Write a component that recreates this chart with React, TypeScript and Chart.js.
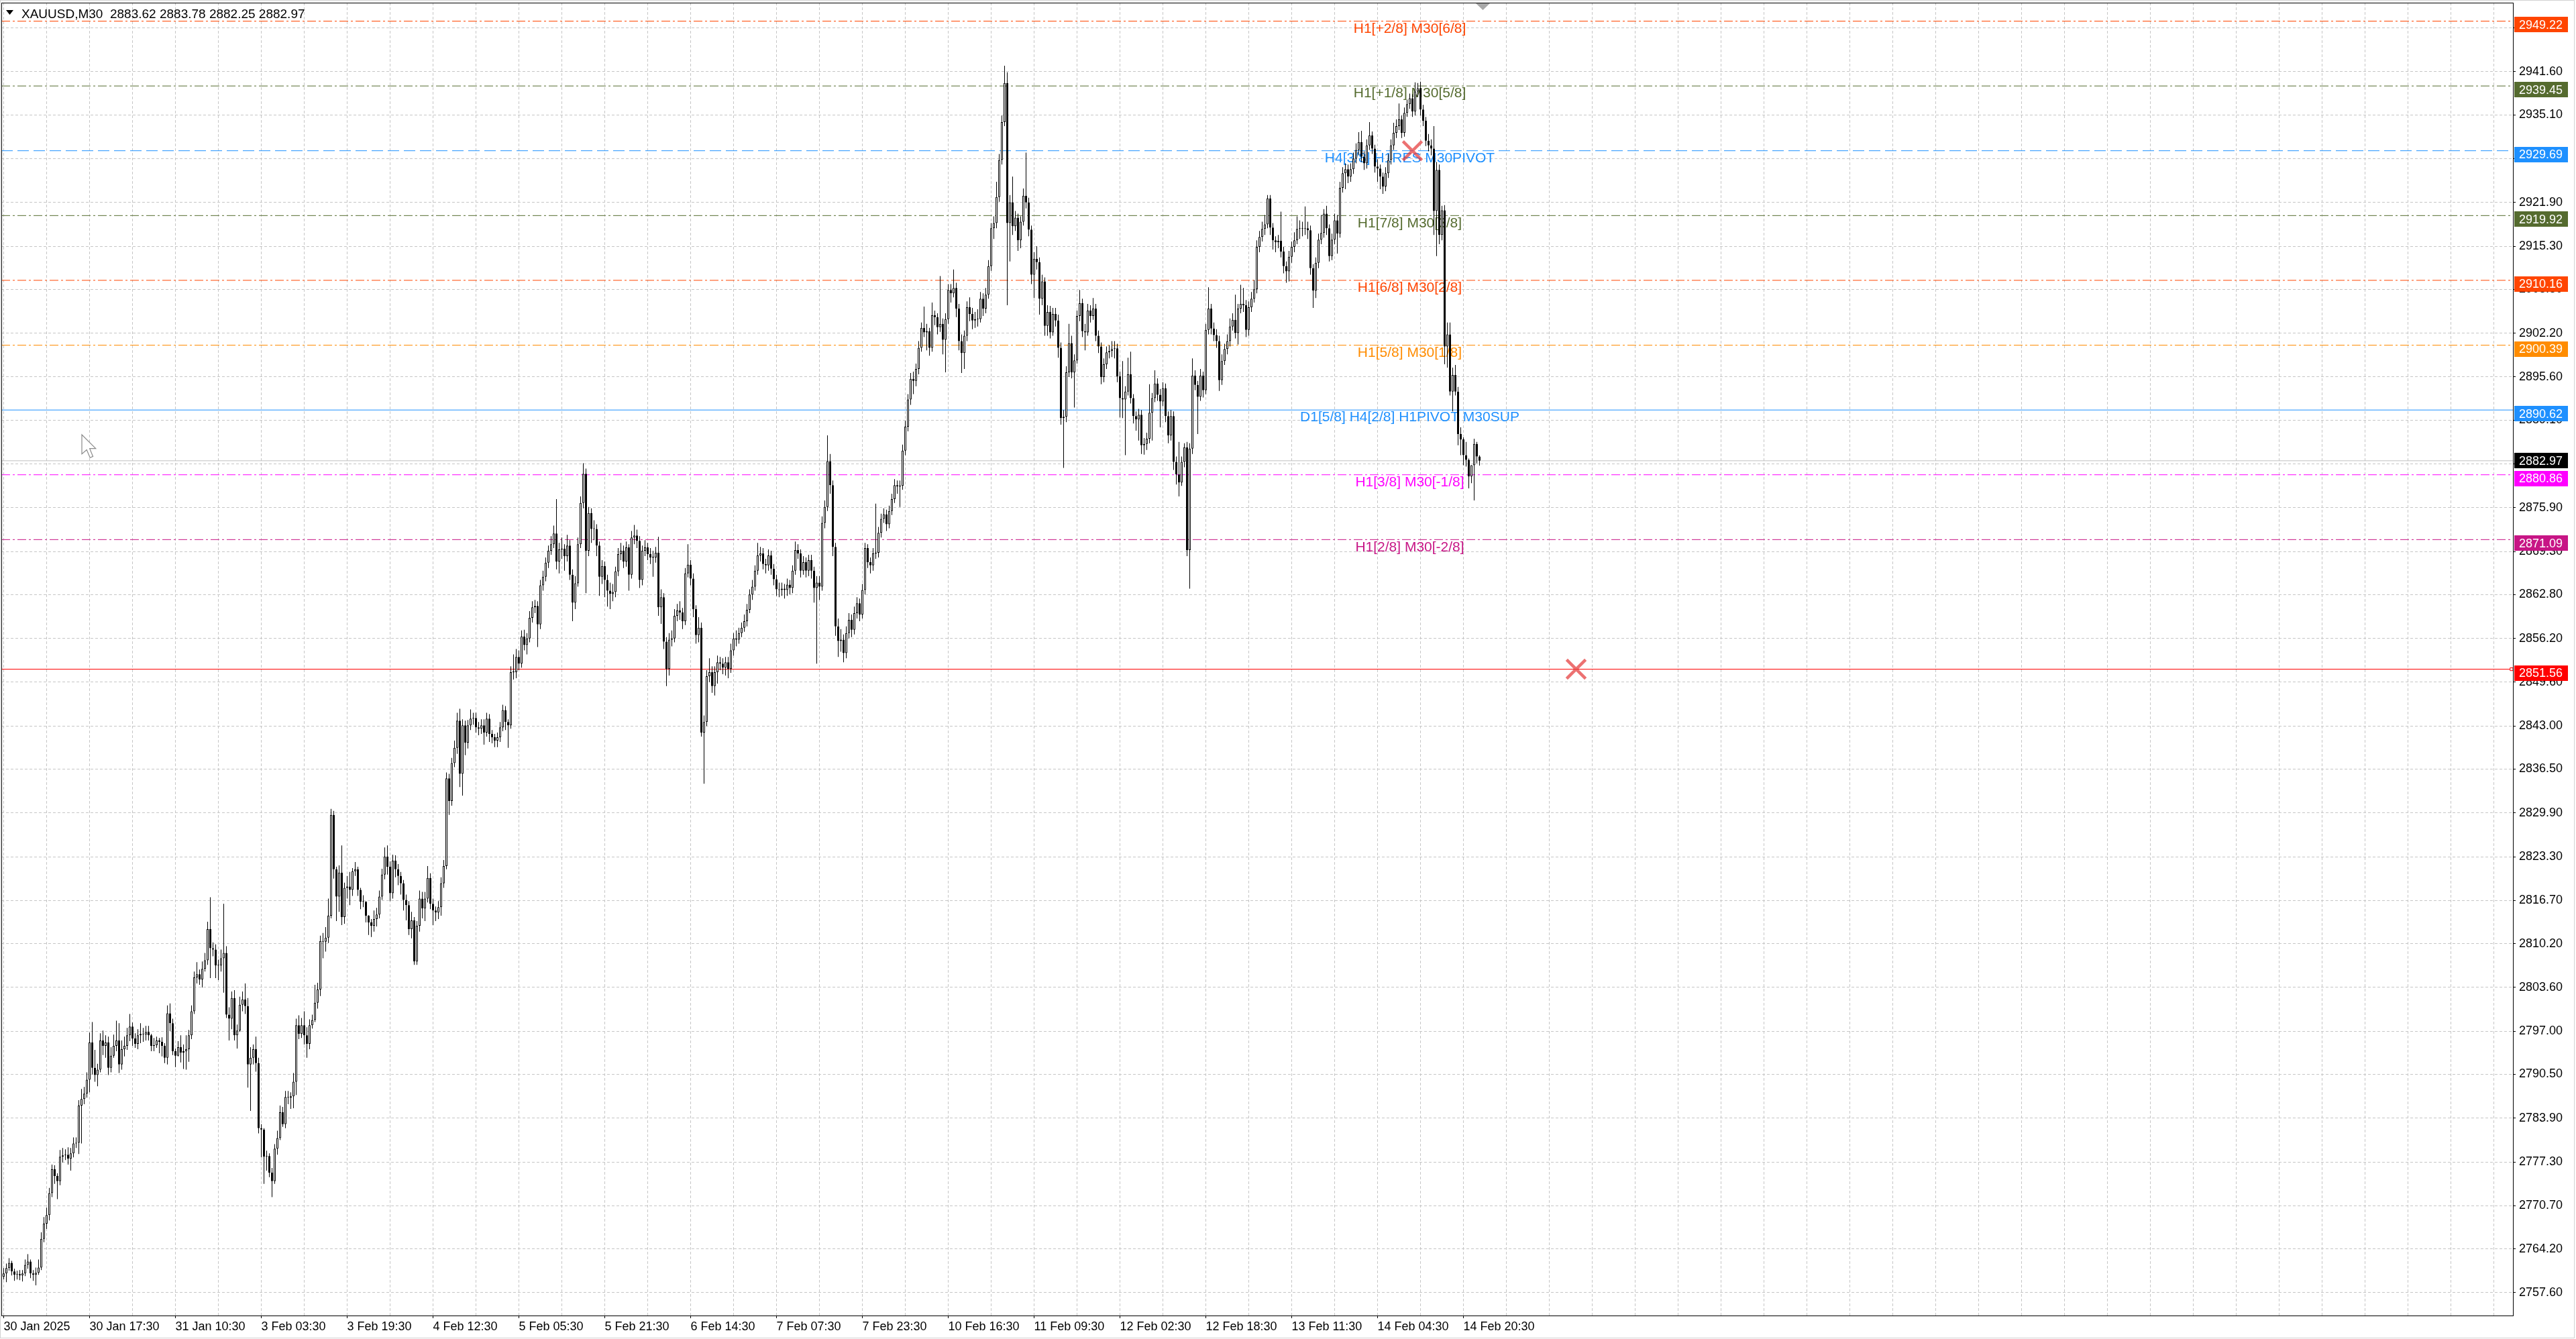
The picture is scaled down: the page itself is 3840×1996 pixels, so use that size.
import React, { useEffect, useRef } from 'react';
import { Chart, registerables } from 'chart.js';

Chart.register(...registerables);

// ---------------- data ----------------
const SYMBOL = 'XAUUSD,M30';
const FIRST_OPEN = 2760.0;

const CLOSE = [
  2760.5, 2761.3, 2762.1, 2760.8, 2760.3, 2760.4, 2760.2, 2760.5, 2761.8, 2762.3,
  2760.5, 2760.3, 2760.6, 2761.4, 2765.7, 2768.0, 2769.3, 2772.6, 2776.2, 2775.2,
  2774.4, 2778.1, 2778.3, 2778.4, 2777.8, 2778.6, 2780.1, 2780.2, 2785.8, 2786.8,
  2787.6, 2789.7, 2795.3, 2791.5, 2790.4, 2791.2, 2795.6, 2794.8, 2795.3, 2791.5,
  2793.3, 2794.8, 2795.6, 2792.0, 2794.3, 2794.8, 2796.4, 2797.7, 2795.9, 2795.1,
  2796.4, 2796.6, 2796.5, 2796.9, 2796.4, 2794.8, 2794.9, 2795.6, 2795.4, 2794.8,
  2793.0, 2799.7, 2798.2, 2794.0, 2793.3, 2794.6, 2793.8, 2794.0, 2794.3, 2796.4,
  2800.0, 2805.1, 2805.6, 2804.8, 2806.4, 2807.7, 2812.4, 2809.5, 2809.3, 2806.9,
  2806.9, 2808.0, 2808.8, 2799.5, 2798.9, 2802.0, 2796.4, 2797.1, 2801.0, 2801.8,
  2800.8, 2792.0, 2793.0, 2794.3, 2792.2, 2782.4, 2782.2, 2778.1, 2778.2, 2775.7,
  2774.4, 2779.3, 2780.9, 2784.8, 2783.0, 2787.1, 2787.0, 2787.2, 2789.4, 2797.9,
  2796.6, 2797.9, 2796.4, 2795.1, 2797.9, 2798.7, 2801.3, 2803.3, 2810.6, 2810.5,
  2811.1, 2814.4, 2829.6, 2821.4, 2817.3, 2820.9, 2814.2, 2818.6, 2818.8, 2818.3,
  2821.1, 2821.4, 2818.3, 2816.5, 2816.5, 2814.4, 2813.4, 2812.9, 2813.9, 2814.6,
  2817.3, 2820.6, 2823.3, 2821.8, 2817.8, 2822.7, 2821.4, 2820.4, 2819.3, 2816.8,
  2816.0, 2812.4, 2813.7, 2807.5, 2812.9, 2817.0, 2815.5, 2817.0, 2820.1, 2816.2,
  2815.2, 2814.9, 2815.7, 2819.3, 2821.9, 2835.1, 2831.7, 2837.4, 2839.7, 2843.8,
  2835.8, 2843.1, 2840.5, 2843.1, 2844.1, 2844.2, 2842.8, 2842.6, 2843.1, 2842.0,
  2844.1, 2841.8, 2841.3, 2840.8, 2841.3, 2842.8, 2845.4, 2843.6, 2843.1, 2851.1,
  2851.1, 2853.4, 2852.4, 2856.5, 2855.2, 2856.2, 2859.3, 2860.9, 2861.1, 2858.3,
  2864.2, 2865.5, 2867.6, 2869.4, 2870.4, 2872.0, 2867.8, 2869.6, 2869.7, 2868.6,
  2870.2, 2865.8, 2861.6, 2864.5, 2870.4, 2876.6, 2881.0, 2869.4, 2875.1, 2872.7,
  2872.7, 2870.2, 2865.5, 2867.1, 2865.0, 2863.4, 2862.9, 2863.2, 2866.3, 2868.9,
  2869.4, 2867.8, 2869.9, 2865.8, 2871.4, 2871.7, 2870.9, 2865.0, 2869.4, 2869.9,
  2868.9, 2868.4, 2868.4, 2869.1, 2860.9, 2862.4, 2855.7, 2851.6, 2856.0, 2856.2,
  2859.6, 2860.4, 2860.1, 2858.8, 2866.0, 2867.3, 2865.2, 2860.6, 2856.7, 2857.8,
  2842.0, 2843.6, 2850.5, 2851.1, 2849.0, 2851.1, 2852.6, 2852.4, 2851.8, 2852.6,
  2851.6, 2854.4, 2856.2, 2856.0, 2857.0, 2857.8, 2858.8, 2860.5, 2862.8, 2864.0,
  2866.4, 2868.7, 2869.0, 2867.4, 2867.2, 2868.7, 2866.7, 2865.1, 2863.6, 2863.5,
  2863.7, 2863.5, 2864.3, 2863.8, 2866.4, 2869.5, 2869.0, 2866.4, 2867.7, 2866.4,
  2868.0, 2866.4, 2863.8, 2864.6, 2864.0, 2873.6, 2876.0, 2882.9, 2879.3, 2870.0,
  2858.0, 2855.8, 2856.0, 2854.0, 2857.0, 2859.0, 2857.5, 2860.0, 2861.5, 2859.8,
  2863.5, 2869.8, 2867.7, 2867.2, 2869.0, 2869.1, 2872.1, 2874.2, 2874.9, 2873.4,
  2875.4, 2877.2, 2879.3, 2879.1, 2879.2, 2884.5, 2888.1, 2892.2, 2895.3, 2895.0,
  2896.8, 2900.0, 2903.0, 2902.3, 2902.5, 2900.0, 2904.9, 2904.6, 2903.1, 2903.6,
  2901.2, 2904.3, 2908.7, 2908.2, 2909.0, 2905.9, 2901.0, 2899.2, 2901.8, 2906.1,
  2905.1, 2904.1, 2904.3, 2904.3, 2907.4, 2905.9, 2908.0, 2912.3, 2918.0, 2918.8,
  2922.7, 2928.3, 2934.0, 2939.9, 2918.8, 2921.9, 2918.3, 2919.6, 2916.2, 2919.0,
  2922.9, 2921.9, 2917.8, 2911.0, 2913.4, 2912.9, 2907.4, 2910.0, 2903.3, 2905.4,
  2902.3, 2905.1, 2904.1, 2900.0, 2889.4, 2889.6, 2896.3, 2900.7, 2896.3, 2898.1,
  2904.8, 2906.7, 2902.5, 2902.3, 2905.6, 2904.8, 2905.9, 2901.8, 2900.2, 2895.6,
  2897.5, 2899.3, 2899.5, 2899.8, 2899.9, 2895.7, 2892.4, 2892.2, 2893.4, 2896.0,
  2892.4, 2889.7, 2889.2, 2889.9, 2885.3, 2885.5, 2886.3, 2890.2, 2892.4, 2894.6,
  2892.9, 2891.9, 2893.9, 2889.7, 2886.8, 2889.7, 2882.8, 2880.9, 2879.7, 2882.8,
  2885.0, 2869.5, 2884.8, 2895.8, 2894.4, 2892.6, 2895.8, 2893.6, 2902.7, 2905.9,
  2902.9, 2901.9, 2901.0, 2895.1, 2898.0, 2899.8, 2901.0, 2903.2, 2904.2, 2902.2,
  2905.9, 2906.6, 2906.4, 2902.7, 2906.1, 2907.4, 2908.8, 2915.2, 2916.7, 2917.9,
  2918.6, 2922.5, 2918.1, 2916.2, 2915.9, 2916.1, 2914.5, 2912.3, 2911.5, 2913.7,
  2915.2, 2916.2, 2917.9, 2917.9, 2917.9, 2918.0, 2917.7, 2912.0, 2908.6, 2912.8,
  2916.3, 2917.3, 2920.2, 2918.0, 2913.8, 2916.3, 2919.2, 2917.2, 2924.1, 2926.3,
  2926.9, 2925.8, 2926.9, 2928.5, 2929.8, 2931.0, 2928.8, 2927.8, 2930.5, 2932.0,
  2930.0, 2927.3, 2927.0, 2925.8, 2924.3, 2926.3, 2928.3, 2930.5, 2932.4, 2933.4,
  2934.4, 2932.4, 2935.4, 2936.7, 2937.6, 2935.6, 2938.6, 2939.1, 2935.9, 2934.2,
  2931.2, 2930.5, 2930.0, 2920.6, 2926.8, 2917.0, 2920.7, 2900.2, 2902.0, 2893.4,
  2895.9, 2893.4, 2887.0, 2886.2, 2883.8, 2883.1, 2880.6, 2882.3, 2885.5, 2883.62,
  2882.97,
];

const HIGH = [
  2761.3, 2762.0, 2762.8, 2762.4, 2761.2, 2760.9, 2761.0, 2761.0, 2762.6, 2763.4,
  2762.6, 2761.0, 2761.4, 2762.6, 2766.7, 2769.0, 2770.4, 2773.4, 2776.9, 2776.8,
  2775.6, 2779.1, 2779.4, 2779.2, 2779.5, 2779.4, 2781.0, 2781.0, 2786.6, 2788.3,
  2788.6, 2790.8, 2796.8, 2798.4, 2794.2, 2792.1, 2796.7, 2797.1, 2796.4, 2796.2,
  2794.6, 2796.5, 2798.6, 2798.2, 2795.6, 2796.2, 2797.5, 2799.6, 2798.3, 2796.7,
  2797.3, 2798.2, 2797.5, 2797.8, 2797.8, 2796.6, 2796.0, 2796.2, 2796.0, 2796.1,
  2795.2, 2800.9, 2801.2, 2798.9, 2794.4, 2795.5, 2796.4, 2795.0, 2796.4, 2797.2,
  2800.9, 2806.0, 2807.4, 2806.3, 2807.5, 2808.8, 2813.5, 2817.2, 2810.4, 2810.1,
  2807.8, 2809.3, 2816.2, 2809.8, 2800.6, 2803.0, 2803.2, 2798.0, 2802.2, 2803.0,
  2804.2, 2802.0, 2794.6, 2795.0, 2796.2, 2793.0, 2783.0, 2782.4, 2779.0, 2778.6,
  2776.4, 2780.0, 2782.0, 2785.8, 2785.6, 2788.0, 2788.0, 2787.8, 2790.7, 2798.9,
  2799.4, 2799.0, 2800.0, 2797.6, 2798.8, 2799.5, 2804.0, 2804.3, 2811.4, 2811.8,
  2812.7, 2817.0, 2830.5, 2830.2, 2821.8, 2822.0, 2825.0, 2819.4, 2820.4, 2821.0,
  2821.6, 2822.5, 2821.8, 2818.6, 2817.5, 2816.6, 2814.5, 2813.9, 2815.2, 2815.6,
  2818.2, 2821.5, 2824.7, 2825.0, 2822.6, 2823.6, 2823.5, 2822.2, 2821.0, 2819.8,
  2817.6, 2816.6, 2815.0, 2814.2, 2813.6, 2818.2, 2818.0, 2818.0, 2821.9, 2820.8,
  2817.0, 2815.8, 2816.6, 2820.2, 2822.8, 2836.0, 2835.8, 2838.2, 2840.8, 2845.0,
  2845.6, 2844.0, 2843.8, 2843.9, 2845.5, 2845.0, 2845.0, 2843.6, 2844.0, 2844.0,
  2845.0, 2844.8, 2842.4, 2841.8, 2842.0, 2843.6, 2846.2, 2846.0, 2844.0, 2852.0,
  2853.8, 2854.6, 2854.4, 2857.4, 2857.5, 2857.0, 2860.3, 2861.8, 2862.0, 2861.8,
  2865.0, 2866.4, 2868.4, 2870.2, 2871.6, 2873.2, 2877.2, 2870.6, 2871.4, 2870.4,
  2871.8, 2871.0, 2866.6, 2865.6, 2871.4, 2877.6, 2882.6, 2881.8, 2876.0, 2875.8,
  2874.0, 2873.4, 2870.8, 2868.0, 2867.8, 2865.8, 2864.6, 2864.4, 2867.0, 2869.8,
  2870.6, 2870.2, 2870.8, 2870.4, 2872.4, 2873.3, 2872.6, 2871.6, 2870.2, 2871.0,
  2870.6, 2869.8, 2869.4, 2870.0, 2871.5, 2863.6, 2863.0, 2856.4, 2857.0, 2857.4,
  2860.6, 2861.4, 2861.8, 2860.8, 2866.8, 2870.4, 2868.0, 2866.0, 2861.2, 2859.4,
  2858.6, 2844.6, 2851.4, 2853.2, 2852.0, 2852.0, 2853.6, 2853.4, 2853.2, 2853.4,
  2853.4, 2855.4, 2857.0, 2857.4, 2857.8, 2858.6, 2859.8, 2861.4, 2863.6, 2865.0,
  2867.2, 2870.6, 2870.0, 2869.8, 2868.2, 2869.6, 2869.4, 2867.4, 2865.8, 2864.6,
  2864.6, 2864.4, 2865.2, 2865.0, 2867.2, 2870.8, 2870.4, 2869.6, 2868.6, 2868.4,
  2868.8, 2868.8, 2867.0, 2865.6, 2865.6, 2874.6, 2877.0, 2886.8, 2884.0, 2880.0,
  2870.6, 2859.2, 2857.6, 2856.8, 2858.0, 2860.0, 2859.8, 2861.0, 2862.4, 2862.2,
  2864.4, 2870.6, 2870.4, 2868.4, 2869.8, 2876.5, 2873.0, 2875.0, 2875.8, 2875.6,
  2876.2, 2878.0, 2880.2, 2880.0, 2880.0, 2885.4, 2889.0, 2893.0, 2896.2, 2896.4,
  2897.6, 2901.0, 2903.8, 2906.2, 2903.6, 2903.0, 2906.8, 2905.6, 2905.2, 2910.8,
  2904.4, 2905.2, 2909.6, 2909.6, 2911.8, 2909.8, 2906.6, 2902.0, 2902.6, 2907.0,
  2907.6, 2906.0, 2905.4, 2905.8, 2908.4, 2908.2, 2909.0, 2913.2, 2918.8, 2919.8,
  2925.0, 2929.2, 2935.0, 2942.5, 2941.5, 2923.0, 2925.8, 2920.6, 2920.2, 2919.8,
  2924.0, 2929.4, 2922.6, 2918.4, 2914.4, 2915.3, 2913.6, 2911.0, 2910.6, 2906.4,
  2906.3, 2906.0, 2906.0, 2905.0, 2900.8, 2890.6, 2897.2, 2903.6, 2901.8, 2899.0,
  2905.6, 2908.7, 2907.4, 2903.6, 2906.6, 2906.4, 2907.5, 2906.6, 2902.6, 2900.8,
  2898.4, 2900.2, 2900.4, 2901.0, 2901.0, 2900.6, 2896.4, 2898.0, 2894.2, 2898.5,
  2899.4, 2893.0, 2890.4, 2890.8, 2890.6, 2886.4, 2887.2, 2894.5, 2893.2, 2896.6,
  2895.4, 2893.8, 2894.8, 2894.6, 2890.4, 2890.6, 2890.4, 2883.6, 2885.8, 2883.6,
  2885.6, 2885.8, 2885.6, 2898.4, 2896.6, 2895.0, 2896.8, 2896.4, 2903.6, 2909.1,
  2906.6, 2903.8, 2902.8, 2901.8, 2899.0, 2900.6, 2902.0, 2904.4, 2905.2, 2908.0,
  2906.6, 2909.5, 2909.0, 2907.2, 2907.0, 2908.4, 2910.2, 2916.2, 2917.6, 2919.0,
  2920.0, 2923.0, 2923.0, 2918.8, 2916.8, 2917.0, 2920.5, 2915.2, 2913.0, 2914.6,
  2916.0, 2917.4, 2919.8, 2919.2, 2919.0, 2921.3, 2919.0, 2918.4, 2912.6, 2913.6,
  2917.2, 2920.0, 2920.9, 2921.4, 2918.6, 2917.2, 2920.2, 2920.0, 2925.0, 2927.2,
  2927.8, 2927.6, 2927.8, 2929.4, 2930.8, 2932.5, 2932.7, 2929.6, 2931.4, 2934.0,
  2932.6, 2930.6, 2928.4, 2927.6, 2926.4, 2927.2, 2929.2, 2931.4, 2933.9, 2934.4,
  2936.8, 2935.0, 2936.2, 2937.4, 2938.3, 2938.2, 2940.0, 2939.9, 2940.1, 2936.6,
  2934.8, 2932.2, 2931.4, 2933.4, 2928.0, 2927.6, 2921.4, 2921.5, 2903.8, 2903.8,
  2897.0, 2897.4, 2894.1, 2888.0, 2886.5, 2885.8, 2883.3, 2882.3, 2886.3, 2885.8,
  2883.78,
];

const LOW = [
  2759.6, 2759.2, 2760.9, 2760.2, 2759.4, 2759.6, 2759.5, 2759.3, 2760.1, 2761.2,
  2759.8, 2759.4, 2758.7, 2760.3, 2761.0, 2765.2, 2767.2, 2768.5, 2772.0, 2774.0,
  2771.7, 2773.8, 2777.2, 2777.6, 2776.9, 2776.0, 2778.0, 2779.4, 2778.5, 2780.1,
  2786.0, 2787.0, 2787.8, 2790.5, 2789.4, 2788.7, 2790.8, 2793.4, 2793.0, 2790.4,
  2790.8, 2793.0, 2794.0, 2790.7, 2791.2, 2793.2, 2794.2, 2795.5, 2794.8, 2794.5,
  2794.3, 2795.2, 2795.4, 2795.6, 2795.6, 2794.0, 2794.0, 2794.5, 2793.7, 2793.2,
  2792.2, 2792.0, 2797.0, 2793.4, 2791.6, 2793.2, 2792.3, 2791.3, 2791.2, 2792.4,
  2795.8, 2799.6, 2804.2, 2804.0, 2803.6, 2806.0, 2807.0, 2805.0, 2808.3, 2805.0,
  2804.7, 2806.0, 2802.8, 2799.0, 2795.6, 2797.3, 2795.6, 2794.4, 2796.9, 2800.0,
  2799.6, 2788.5, 2785.0, 2792.0, 2790.9, 2781.6, 2778.0, 2774.0, 2776.0, 2775.0,
  2772.0, 2774.0, 2778.4, 2780.6, 2782.6, 2782.4, 2786.0, 2785.3, 2785.4, 2787.4,
  2795.8, 2796.0, 2795.0, 2793.0, 2794.3, 2797.4, 2798.4, 2800.4, 2802.3, 2808.0,
  2809.0, 2810.3, 2814.0, 2820.0, 2813.6, 2815.0, 2813.0, 2813.2, 2817.0, 2816.0,
  2817.4, 2820.4, 2817.4, 2815.4, 2815.7, 2813.4, 2811.5, 2811.2, 2812.0, 2812.8,
  2814.0, 2816.8, 2819.9, 2820.6, 2816.6, 2817.0, 2820.2, 2819.0, 2817.6, 2815.2,
  2813.7, 2811.5, 2811.0, 2807.0, 2807.0, 2812.0, 2814.0, 2813.6, 2816.4, 2815.4,
  2813.0, 2813.6, 2813.9, 2814.4, 2818.6, 2821.4, 2829.6, 2831.0, 2836.8, 2838.8,
  2833.8, 2832.5, 2838.6, 2839.6, 2842.4, 2843.2, 2842.0, 2841.6, 2841.8, 2840.2,
  2841.4, 2840.6, 2840.4, 2839.8, 2839.8, 2840.6, 2842.2, 2842.4, 2839.7, 2842.6,
  2850.0, 2850.2, 2851.4, 2851.8, 2854.4, 2853.8, 2855.6, 2858.6, 2860.0, 2854.9,
  2857.6, 2863.4, 2864.8, 2866.8, 2868.8, 2869.8, 2866.6, 2866.0, 2868.2, 2866.4,
  2867.8, 2865.0, 2858.8, 2860.6, 2864.0, 2869.8, 2875.8, 2863.0, 2868.6, 2870.6,
  2871.0, 2868.6, 2862.6, 2864.4, 2862.4, 2861.0, 2860.6, 2861.8, 2862.4, 2865.6,
  2868.0, 2866.8, 2867.0, 2863.4, 2865.2, 2870.4, 2869.8, 2863.8, 2864.2, 2868.6,
  2868.0, 2867.4, 2865.5, 2867.6, 2859.6, 2858.4, 2854.6, 2849.0, 2850.6, 2855.0,
  2855.6, 2858.8, 2859.0, 2857.6, 2858.2, 2865.4, 2864.2, 2859.4, 2855.4, 2855.6,
  2841.4, 2834.3, 2843.0, 2849.6, 2848.0, 2847.6, 2849.4, 2851.4, 2850.8, 2850.6,
  2850.2, 2851.0, 2853.6, 2855.0, 2855.4, 2856.4, 2857.2, 2858.0, 2860.0, 2862.0,
  2863.4, 2865.8, 2867.8, 2866.6, 2866.0, 2866.4, 2865.8, 2864.2, 2862.6, 2862.4,
  2862.6, 2862.2, 2862.6, 2862.8, 2863.0, 2865.8, 2868.2, 2865.4, 2865.8, 2865.4,
  2865.6, 2865.2, 2861.6, 2852.4, 2862.0, 2863.4, 2872.8, 2875.4, 2878.0, 2868.6,
  2856.6, 2853.4, 2854.2, 2852.6, 2853.2, 2856.2, 2856.4, 2856.8, 2859.2, 2858.8,
  2859.2, 2862.8, 2866.8, 2866.0, 2866.4, 2868.2, 2868.4, 2871.4, 2873.6, 2872.4,
  2872.8, 2874.8, 2876.6, 2878.0, 2876.0, 2878.6, 2883.8, 2887.4, 2891.4, 2893.0,
  2894.2, 2896.0, 2899.4, 2901.6, 2899.6, 2898.8, 2899.4, 2903.4, 2902.0, 2902.4,
  2899.0, 2896.3, 2903.6, 2906.8, 2907.6, 2904.6, 2899.6, 2896.2, 2896.8, 2901.0,
  2904.0, 2902.8, 2903.0, 2903.2, 2903.8, 2904.8, 2905.2, 2907.4, 2911.6, 2916.4,
  2918.0, 2922.0, 2927.6, 2933.4, 2906.4, 2913.0, 2917.0, 2917.6, 2914.6, 2915.0,
  2918.4, 2921.0, 2916.8, 2909.6, 2907.5, 2911.8, 2905.0, 2906.4, 2901.8, 2901.8,
  2901.4, 2901.8, 2903.2, 2898.5, 2888.4, 2881.9, 2888.8, 2895.6, 2895.4, 2891.0,
  2897.6, 2904.0, 2901.6, 2899.6, 2901.8, 2903.8, 2904.2, 2901.0, 2899.2, 2894.5,
  2894.8, 2896.8, 2898.4, 2898.6, 2898.4, 2894.8, 2889.5, 2889.4, 2883.8, 2892.8,
  2891.6, 2888.6, 2887.5, 2886.0, 2884.0, 2883.9, 2884.6, 2885.6, 2886.0, 2891.8,
  2892.0, 2888.0, 2891.2, 2888.8, 2885.6, 2886.0, 2881.6, 2879.4, 2877.6, 2879.2,
  2882.0, 2868.6, 2863.7, 2884.0, 2893.6, 2887.0, 2892.0, 2892.5, 2893.0, 2902.0,
  2902.0, 2901.0, 2900.0, 2893.5, 2894.4, 2897.4, 2899.0, 2900.2, 2902.6, 2901.4,
  2900.5, 2905.2, 2905.4, 2901.6, 2901.8, 2905.4, 2906.8, 2908.2, 2914.4, 2916.0,
  2917.0, 2918.0, 2917.0, 2914.8, 2914.4, 2915.0, 2913.6, 2911.2, 2909.8, 2910.0,
  2912.8, 2914.4, 2915.6, 2916.4, 2916.8, 2917.0, 2916.4, 2911.0, 2906.0, 2907.5,
  2912.0, 2915.6, 2916.6, 2917.0, 2913.0, 2913.2, 2915.6, 2914.2, 2916.6, 2923.4,
  2923.9, 2924.8, 2925.0, 2926.2, 2927.8, 2929.0, 2928.0, 2926.8, 2927.0, 2929.8,
  2929.2, 2926.4, 2925.0, 2923.9, 2923.2, 2923.6, 2925.6, 2927.6, 2929.8, 2931.6,
  2932.8, 2931.6, 2931.8, 2934.8, 2936.0, 2934.8, 2935.0, 2937.8, 2935.0, 2933.4,
  2930.4, 2929.6, 2929.0, 2917.0, 2913.8, 2915.6, 2916.2, 2897.5, 2897.0, 2892.8,
  2890.4, 2892.8, 2885.3, 2883.8, 2882.3, 2882.1, 2878.8, 2879.6, 2877.0, 2882.6,
  2882.25,
];

const X_LABELS = [
  '30 Jan 2025', '30 Jan 17:30', '31 Jan 10:30', '3 Feb 03:30', '3 Feb 19:30', '4 Feb 12:30',
  '5 Feb 05:30', '5 Feb 21:30', '6 Feb 14:30', '7 Feb 07:30', '7 Feb 23:30', '10 Feb 16:30',
  '11 Feb 09:30', '12 Feb 02:30', '12 Feb 18:30', '13 Feb 11:30', '14 Feb 04:30', '14 Feb 20:30',
];

const Y_TICKS = [
  2948.2, 2941.6, 2935.1, 2928.5, 2921.9, 2915.3, 2908.8, 2902.2, 2895.6, 2889.1,
  2882.5, 2875.9, 2869.3, 2862.8, 2856.2, 2849.6, 2843.0, 2836.5, 2829.9, 2823.3,
  2816.7, 2810.2, 2803.6, 2797.0, 2790.5, 2783.9, 2777.3, 2770.7, 2764.2, 2757.6,
];

const LEVEL_PRICES = [2949.22, 2939.45, 2929.69, 2919.92, 2910.16, 2900.39, 2890.62, 2880.86, 2871.09];
const LEVEL_NAMES = [
  'H1[+2/8] M30[6/8]',
  'H1[+1/8] M30[5/8]',
  'H4[3/8] H1RES M30PIVOT',
  'H1[7/8] M30[3/8]',
  'H1[6/8] M30[2/8]',
  'H1[5/8] M30[1/8]',
  'D1[5/8] H4[2/8] H1PIVOT M30SUP',
  'H1[3/8] M30[-1/8]',
  'H1[2/8] M30[-2/8]',
];
const BID_PRICE = 2882.97;
const SUPPORT_PRICE = 2851.56;
const MARK_BARS = [525, 586];
const MARK_PRICES = [2929.69, 2851.56];
const LABEL_BAR = 524;
const SUPPORT_ANCHOR_BAR = 934.6;

// ---------------- styles / view ----------------
const W = 3840;
const H = 1996;
const X_MIN = -0.875;
const X_MAX = 935.125;
const Y_MIN = 2754.16;
const Y_MAX = 2952.0;
const FONT = '"Liberation Sans", Arial, sans-serif';
const GRID_COLOR = '#c6c6c6';
const DASHDOT = [13, 4, 3, 4];
const LEVEL_COLORS = ['#FF4500', '#556B2F', '#1E90FF', '#556B2F', '#FF4500', '#FF8C00', '#1E90FF', '#FF00FF', '#C71585'];
const LEVEL_DASHES = [DASHDOT, DASHDOT, [17, 7], DASHDOT, DASHDOT, DASHDOT, [], DASHDOT, DASHDOT];
const SUPPORT_COLOR = '#FF0000';
const BID_LINE_COLOR = '#c0c0c0';

const overlay = {
  id: 'mtOverlay',
  beforeDatasetsDraw(chart: any) {
    const { ctx, chartArea: a, scales } = chart;
    const x = scales.x;
    const y = scales.y;
    ctx.save();
    ctx.beginPath();
    ctx.rect(a.left, a.top, a.right - a.left, a.bottom - a.top);
    ctx.clip();
    ctx.font = `21px ${FONT}`;
    ctx.textAlign = 'center';
    ctx.textBaseline = 'top';
    const cx = x.getPixelForValue(LABEL_BAR);
    LEVEL_PRICES.forEach((p, i) => {
      ctx.fillStyle = LEVEL_COLORS[i];
      ctx.fillText(LEVEL_NAMES[i], cx, y.getPixelForValue(p) + 1);
    });
    ctx.restore();
  },
  afterDraw(chart: any) {
    const { ctx, chartArea: a, scales } = chart;
    const y = scales.y;
    ctx.save();
    // window frame
    ctx.strokeStyle = '#d2d2d2';
    ctx.lineWidth = 1;
    ctx.strokeRect(0.5, 0.5, 3837, 1994);
    // plot frame
    ctx.strokeStyle = '#000';
    ctx.strokeRect(a.left + 0.5, a.top + 0.5, a.right - a.left, a.bottom - a.top);

    // chart-shift marker
    ctx.fillStyle = '#a8a8a8';
    ctx.beginPath();
    ctx.moveTo(2200, 5);
    ctx.lineTo(2221, 5);
    ctx.lineTo(2210.5, 15);
    ctx.closePath();
    ctx.fill();

    // header
    const n = CLOSE.length - 1;
    const o = CLOSE[n - 1];
    ctx.fillStyle = '#000';
    ctx.beginPath();
    ctx.moveTo(9, 15);
    ctx.lineTo(20, 15);
    ctx.lineTo(14.5, 22);
    ctx.closePath();
    ctx.fill();
    ctx.font = `19px ${FONT}`;
    ctx.textAlign = 'left';
    ctx.textBaseline = 'alphabetic';
    ctx.fillText(
      `${SYMBOL}  ${o.toFixed(2)} ${HIGH[n].toFixed(2)} ${LOW[n].toFixed(2)} ${CLOSE[n].toFixed(2)}`,
      32,
      27,
    );

    // price boxes on the axis
    ctx.font = `18px ${FONT}`;
    ctx.textBaseline = 'middle';
    const box = (price: number, color: string, off: number) => {
      const cy = y.getPixelForValue(price) + off;
      ctx.fillStyle = color;
      ctx.fillRect(3748, Math.round(cy - 11.5), 80, 23);
      ctx.fillStyle = '#fff';
      ctx.fillText(price.toFixed(2), 3755, cy + 1);
    };
    LEVEL_PRICES.forEach((p, i) => box(p, LEVEL_COLORS[i], 5.5));
    box(SUPPORT_PRICE, SUPPORT_COLOR, 5.5);
    box(BID_PRICE, '#000', 0);

    // mouse cursor
    const s = 1.8;
    const cx0 = 122;
    const cy0 = 648;
    const pts = [[0, 0], [0, 16], [4, 12.5], [6.8, 19], [9.2, 18], [6.5, 11.5], [11.5, 11.5]];
    ctx.beginPath();
    pts.forEach(([px, py], i) => {
      const X = cx0 + px * s;
      const Y = cy0 + py * s;
      if (i === 0) ctx.moveTo(X, Y);
      else ctx.lineTo(X, Y);
    });
    ctx.closePath();
    ctx.fillStyle = '#fff';
    ctx.fill();
    ctx.strokeStyle = '#8a8a8a';
    ctx.lineWidth = 1.2;
    ctx.stroke();
    ctx.restore();
  },
};

export default function App() {
  const ref = useRef<HTMLCanvasElement | null>(null);

  useEffect(() => {
    const canvas = ref.current;
    if (!canvas) return;

    const OPEN = CLOSE.map((c, i) => (i === 0 ? FIRST_OPEN : CLOSE[i - 1]));
    const hi = CLOSE.map((c, i) => Math.max(HIGH[i], OPEN[i], c));
    const lo = CLOSE.map((c, i) => Math.min(LOW[i], OPEN[i], c));

    const wickData = CLOSE.map((c, i) => ({ x: i, y: [lo[i], hi[i]] }));
    const bodyData = CLOSE.map((c, i) => ({ x: i, y: [OPEN[i], c] }));
    const bodyFill = CLOSE.map((c, i) => (c >= OPEN[i] ? '#ffffff' : '#000000'));

    const levelSets = LEVEL_PRICES.map((p, i) => ({
      type: 'line',
      data: [{ x: X_MIN, y: p }, { x: X_MAX, y: p }],
      borderColor: LEVEL_COLORS[i],
      borderWidth: 1,
      borderDash: LEVEL_DASHES[i],
      pointRadius: 0,
      fill: false,
      order: 5,
    }));

    const labelledTick = (c: any) =>
      c && c.tick && c.tick.value % 32 === 0 && X_LABELS[c.tick.value / 32] ? '#000' : 'rgba(0,0,0,0)';

    const chart = new Chart(canvas, {
      type: 'bar',
      data: {
        datasets: [
          ...levelSets,
          {
            type: 'line',
            data: [{ x: X_MIN, y: BID_PRICE }, { x: X_MAX, y: BID_PRICE }],
            borderColor: BID_LINE_COLOR,
            borderWidth: 1,
            pointRadius: 0,
            fill: false,
            order: 6,
          },
          {
            type: 'line',
            data: [{ x: X_MIN, y: SUPPORT_PRICE }, { x: X_MAX, y: SUPPORT_PRICE }],
            borderColor: SUPPORT_COLOR,
            borderWidth: 1,
            pointRadius: 0,
            fill: false,
            order: 5,
          },
          {
            type: 'bar',
            data: wickData,
            backgroundColor: '#000000',
            borderWidth: 0,
            barThickness: 1,
            grouped: false,
            inflateAmount: 0,
            order: 3,
          },
          {
            type: 'bar',
            data: bodyData,
            backgroundColor: bodyFill,
            borderColor: '#000000',
            borderWidth: 1,
            borderSkipped: false,
            barThickness: 3,
            minBarLength: 1,
            grouped: false,
            inflateAmount: 0,
            order: 2,
          },
          {
            type: 'scatter',
            data: [{ x: SUPPORT_ANCHOR_BAR, y: SUPPORT_PRICE }],
            pointStyle: 'rect',
            pointRadius: 3,
            pointBackgroundColor: '#ffffff',
            pointBorderColor: SUPPORT_COLOR,
            pointBorderWidth: 1,
            order: 1,
          },
          {
            type: 'scatter',
            data: MARK_BARS.map((b, i) => ({ x: b, y: MARK_PRICES[i] })),
            pointStyle: 'crossRot',
            pointRadius: 20,
            pointBorderWidth: 4.5,
            pointBorderColor: 'rgba(228, 58, 58, 0.72)',
            order: 0,
          },
        ],
      },
      options: {
        responsive: false,
        maintainAspectRatio: false,
        devicePixelRatio: 1,
        animation: false,
        events: [],
        layout: { autoPadding: false, padding: { left: 2, top: 4, right: 0, bottom: 0 } },
        plugins: { legend: { display: false }, tooltip: { enabled: false } },
        scales: {
          x: {
            type: 'linear',
            min: X_MIN,
            max: X_MAX,
            offset: false,
            afterBuildTicks: (s: any) => {
              const t = [];
              for (let v = 0; v <= X_MAX; v += 16) t.push({ value: v });
              s.ticks = t;
            },
            afterFit: (s: any) => {
              s.height = 35;
              s.paddingLeft = 0;
              s.paddingRight = 0;
            },
            ticks: {
              autoSkip: false,
              maxRotation: 0,
              minRotation: 0,
              align: 'start',
              padding: 2,
              color: '#000',
              font: { family: FONT, size: 18 },
              callback: (v: any) => {
                const n = Number(v);
                return n % 32 === 0 && X_LABELS[n / 32] ? X_LABELS[n / 32] : '';
              },
            },
            grid: {
              offset: false,
              color: GRID_COLOR,
              lineWidth: 1,
              tickLength: 4,
              tickColor: labelledTick,
              tickWidth: 1,
            },
            border: { display: false, dash: [4, 3] },
          },
          y: {
            type: 'linear',
            position: 'right',
            min: Y_MIN,
            max: Y_MAX,
            beginAtZero: false,
            afterBuildTicks: (s: any) => {
              s.ticks = Y_TICKS.map((v) => ({ value: v }));
            },
            afterFit: (s: any) => {
              s.width = 94;
              s.paddingTop = 0;
              s.paddingBottom = 0;
            },
            ticks: {
              autoSkip: false,
              padding: 5,
              color: '#000',
              font: { family: FONT, size: 18 },
              callback: (v: any) => Number(v).toFixed(2),
            },
            grid: {
              color: GRID_COLOR,
              lineWidth: 1,
              tickLength: 4,
              tickColor: '#000',
              tickWidth: 1,
            },
            border: { display: false, dash: [4, 3] },
          },
        },
      },
      plugins: [overlay],
    } as any);

    return () => chart.destroy();
  }, []);

  return (
    <div style={{ position: 'fixed', left: 0, top: 0, width: W, height: H, background: '#ffffff' }}>
      <canvas ref={ref} width={W} height={H} style={{ display: 'block', width: W, height: H }} />
    </div>
  );
}
